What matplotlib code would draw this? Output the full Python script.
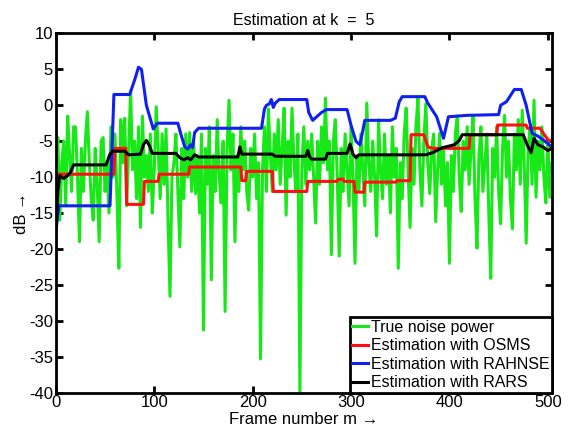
import numpy as np
import matplotlib
matplotlib.use('Agg')
import matplotlib.pyplot as plt

plt.rcParams['font.family'] = ['Liberation Sans', 'DejaVu Sans']
plt.rcParams['axes.unicode_minus'] = False

# true noise power, one value every 2 frames (0, 2, ..., 504)
noise_db = [
    -10, -4.5, -16, -8, -5, -14, -1.5, -7, -12, -3,
    -3, -10, -19, -6, -12, -5, -0.9, -8, -13, -16,
    -6, -11, -19, -5, -4.5, -12, -8, -15, -3, -10,
    -4, -12, -22.7, -2, -8, -1.8, -14, -6, 2, -9,
    -5, -13, -3, -17, -1.5, -10, -7, -12, -4, -15,
    -9, -0.2, -6, -13, -4, -11, -3.3, -16, -26.6, -10,
    -8, -4, -12, -19.7, -6, -13, -4, -10, -3.8, -12,
    -5, -12.3, -7, -15, -4, -31.3, -6, -11, -3, -24.3,
    -7, -12, -2, -10, -13.6, -5, -28.7, -6, 0.7, -9,
    -4, -19, -7, -12, -3, -9, -5, -12, -14.6, -6,
    -10, -4, -13, -8, -35.3, -9, -3, -12, -0.5, -7,
    -12, -4, -9, -2, -11, -6, -0.4, -15.3, -5, -10,
    -0.4, -8, -12, -4, -40, -9, -3, -11, -5, -9,
    -4, -10, -16.4, -5, -11, -3, -8, 1.0, -9, -5,
    -20.8, -5, -2, -10, -21, -6, -12, -4, -9, -14,
    -3, -10, -22, -7, -12, -4, -9, -14, 0.3, -8,
    -12, -5, -10, -18.2, -2, -9, -13, -4, -11, -7,
    -15, -3, -10, -6, -22.7, -8, -13, -4, -0.4, -9,
    -17, -6, -11, -3, 1.0, -9, -14, -5, 0.2, -8,
    -12.3, -6, -4, -16.2, -9, -3.9, -11, -6, -14, -8,
    -22, -7, -12, -4, -1.5, -10, -14.8, -5, -9, -3,
    -11, -6, -1.5, -13, -19.9, -7, -3, -12, -8, -4,
    -15, -24.1, -6, -10, -3, -12, -16.5, -6, -1.4, -10,
    -5, -13, -17.2, -4, -9, -2, -11, -0.7, -8, -19.2,
    -6, -3, -11, 0.7, -12.8, -5, -9, -3, -10, -13.6,
    -4.8, -12.8, -8,
]
noise_frames = np.arange(0, 2 * len(noise_db), 2)

# OSMS estimate (breakpoints)
osms_x = [0, 59, 60, 71, 72, 89, 90, 104, 105, 135, 136, 188, 189, 193, 194, 220,
          221, 255, 256, 286, 287, 292, 293, 303, 304, 313, 314, 346, 347, 360,
          361, 374, 378, 383, 420, 421, 448, 449, 478, 479, 492, 500, 504]
osms_y = [-9.6, -9.6, -6.0, -6.0, -13.8, -13.8, -10.6, -10.6, -9.6, -9.6, -8.6, -8.6,
          -10.5, -10.5, -9.2, -9.2, -12.0, -12.0, -10.6, -10.6, -10.3, -10.3, -10.6,
          -10.6, -12.1, -12.1, -10.7, -10.7, -10.5, -10.5, -4.1, -4.1, -5.8, -6.0,
          -6.0, -4.1, -4.1, -2.75, -2.75, -3.2, -3.2, -4.8, -5.0]

# RAHNSE estimate
rahnse_x = [0, 3, 55, 59, 75, 80, 84, 87, 92, 99, 103, 124, 127, 131, 134, 137, 139,
            141, 145, 209, 212, 214, 217, 219, 221, 223, 227, 255, 257, 261, 270, 275,
            296, 300, 305, 309, 312, 314, 340, 345, 349, 352, 375, 378, 387, 394, 399,
            418, 450, 452, 458, 466, 473, 478, 484, 490, 497, 504]
rahnse_y = [-17.6, -14, -14, 1.5, 1.5, 3.5, 5.3, 5.0, 0, -3.3, -2.5, -2.5, -4, -5.8,
            -6.1, -5.5, -5.9, -3.8, -3.2, -3.2, -0.5, 0, 0.2, 0.8, -0.3, 0.3, 0.8, 0.8,
            -1, -2.1, -1.0, -0.6, -0.6, -2.8, -5.0, -5.5, -3.5, -2.1, -2.1, -1.8, 0.5,
            1.2, 1.2, 0.3, -1.6, -4.6, -1.6, -1.4, -1.3, 0, 0.5, 2.2, 2.2, 0, -3.9,
            -4.3, -5.0, -5.8]

# RARS estimate
rars_x = [0, 2, 4, 8, 12, 15, 18, 51, 55, 58, 70, 74, 86, 89, 92, 95, 98, 122, 126,
          130, 134, 137, 141, 145, 185, 187, 189, 220, 223, 254, 256, 258, 260, 274,
          276, 296, 299, 302, 305, 308, 376, 383, 393, 405, 410, 413, 475, 479, 483,
          486, 490, 495, 500, 504]
rars_y = [-17.8, -12, -9.8, -10.2, -9.8, -9.3, -8.3, -8.3, -6.8, -6.4, -6.4, -6.9,
          -6.8, -5.5, -4.9, -5.6, -6.7, -6.7, -7.3, -7.6, -7.3, -7.6, -6.9, -7.2, -7.2,
          -5.8, -6.8, -6.8, -7.1, -7.1, -6.3, -7.2, -7.5, -7.5, -6.7, -6.7, -5.4,
          -6.8, -7.3, -6.9, -6.9, -6.6, -5.9, -5.5, -4.9, -4.1, -4.1, -5.5, -6.6,
          -4.6, -5.5, -5.8, -6.3, -6.0]

fig = plt.figure(figsize=(5.7, 4.29), dpi=100)
ax = fig.add_axes([0.098, 0.085, 0.870, 0.837])

ax.plot(noise_frames, noise_db, color='#18e818', lw=2.2, label='True noise power')
ax.plot(osms_x, osms_y, color='#ff1010', lw=2.2, label='Estimation with OSMS')
ax.plot(rahnse_x, rahnse_y, color='#1020f0', lw=2.2, label='Estimation with RAHNSE')
ax.plot(rars_x, rars_y, color='black', lw=2.2, label='Estimation with RARS')

ax.set_xlim(0, 504)
ax.set_ylim(-40, 10)
ax.set_xticks(range(0, 501, 100))
ax.set_yticks(range(-40, 11, 5))
ax.tick_params(direction='in', top=True, right=True, length=5, width=2,
               labelsize=12, pad=2)
for s in ax.spines.values():
    s.set_linewidth(2)

ax.set_title('Estimation at k  =  5', fontsize=11.5, pad=6)
ax.set_xlabel('Frame number m \u2192', fontsize=12, labelpad=1)
ax.set_ylabel('dB \u2192', fontsize=12, labelpad=0)

leg = ax.legend(loc='lower right', fontsize=11.5, fancybox=False, framealpha=1,
                edgecolor='black', borderaxespad=0, borderpad=0.15,
                handlelength=1.0, handletextpad=0.15, labelspacing=0.22)
leg.get_frame().set_linewidth(2)

fig.savefig('out.png', dpi=100)
